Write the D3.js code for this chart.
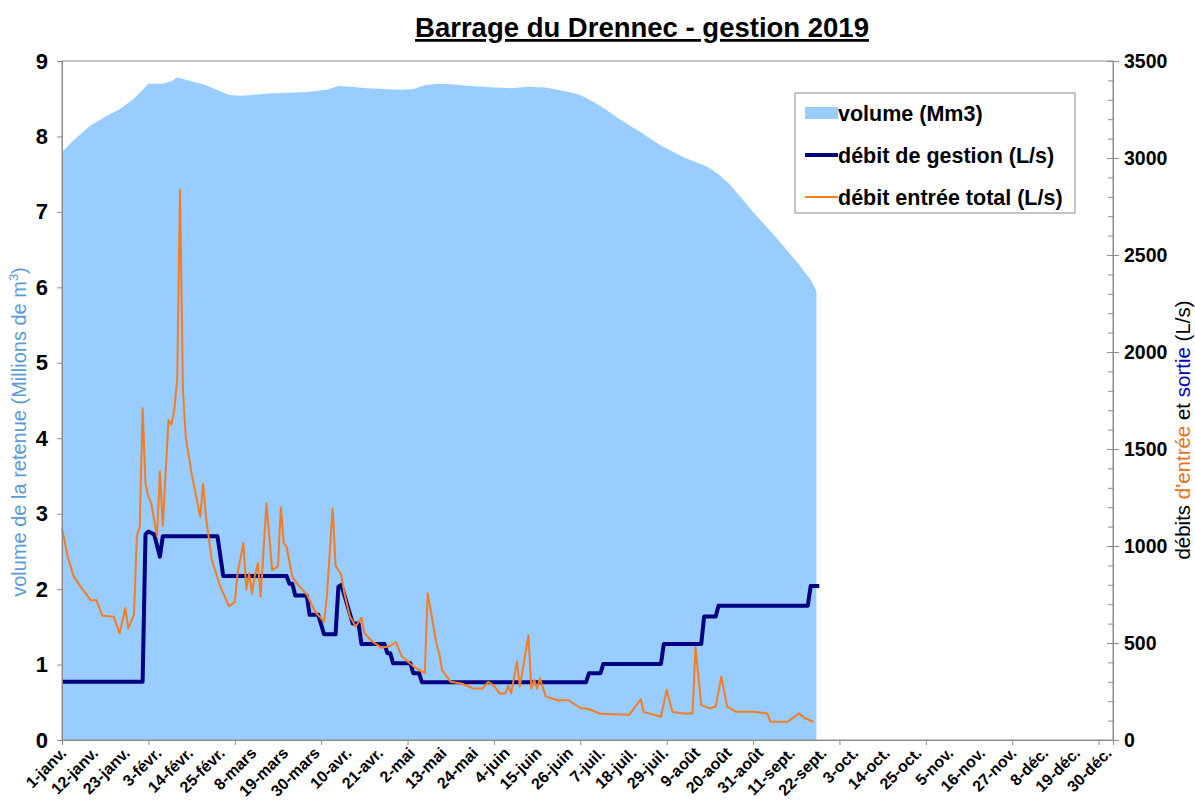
<!DOCTYPE html>
<html>
<head>
<meta charset="utf-8">
<script src="https://cdn.jsdelivr.net/npm/d3@7"></script>
<style>
  body { margin: 0; background: #fff; }
  svg { font-family: "Liberation Sans", Arial, sans-serif; }
</style>
</head>
<body>
<svg width="1195" height="807"></svg>
<script>
// volume de la retenue (Mm3), [jour de l'année, valeur]
const volume = [
  [0, 7.79], [4, 7.95], [10, 8.15], [15, 8.26], [20, 8.36], [25, 8.5], [28, 8.62],
  [30, 8.7], [35, 8.7], [38, 8.73], [40, 8.78], [42, 8.76], [45, 8.73], [50, 8.68],
  [55, 8.6], [58, 8.55], [62, 8.54], [66, 8.55], [72, 8.57], [78, 8.58], [85, 8.59],
  [92, 8.62], [96, 8.67], [100, 8.66], [106, 8.64], [112, 8.63], [118, 8.62],
  [122, 8.63], [126, 8.68], [130, 8.7], [136, 8.69], [142, 8.67], [150, 8.65],
  [156, 8.64], [162, 8.66], [168, 8.65], [172, 8.62], [176, 8.59], [180, 8.55],
  [184, 8.47], [188, 8.38], [192, 8.27], [196, 8.17], [200, 8.08], [204, 7.98],
  [208, 7.88], [212, 7.8], [216, 7.72], [220, 7.66], [224, 7.6], [228, 7.5],
  [232, 7.36], [236, 7.18], [240, 7.0], [244, 6.83], [248, 6.66], [252, 6.48],
  [256, 6.3], [260, 6.1], [262, 5.95]
];

// débit de gestion (L/s)
const gestion = [
  [0, 300], [28, 300], [29, 1060], [30, 1075], [32, 1060], [34, 945], [35, 1050],
  [54, 1050], [56, 845], [78, 845], [79, 805], [80, 805], [81, 745], [85, 745],
  [86, 645], [89, 645], [91, 545], [95, 545], [96, 790], [97, 800], [101, 600],
  [103, 600], [104, 495], [112, 495], [113, 447], [114, 447], [115, 395], [121, 395],
  [122, 344], [124, 344], [125, 298], [182, 298], [183, 344], [187, 344], [188, 392],
  [208, 392], [209, 495], [222, 495], [223, 636], [227, 636], [228, 692], [259, 692],
  [260, 794], [263, 794]
];

// débit entrée total (L/s)
const entree = [
  [0, 1090], [2, 945], [4, 845], [7, 780], [10, 720], [12, 720], [14, 640], [18, 635],
  [20, 550], [22, 680], [23, 575], [25, 645], [26, 1050], [27, 1100], [28, 1710],
  [29, 1320], [30, 1255], [31, 1220], [33, 1050], [34, 1385], [35, 1105], [37, 1650],
  [38, 1625], [39, 1700], [40, 1860], [41, 2835], [42, 1800], [43, 1560], [45, 1375],
  [48, 1150], [49, 1320], [50, 1150], [52, 930], [55, 790], [58, 690], [60, 710],
  [61, 860], [63, 1015], [64, 775], [65, 860], [66, 755], [67, 850], [68, 910],
  [69, 740], [71, 1220], [72, 1050], [73, 875], [75, 895], [76, 1200], [77, 1015],
  [78, 995], [80, 840], [82, 800], [85, 750], [88, 660], [91, 610], [92, 740],
  [94, 1195], [95, 900], [97, 850], [98, 760], [100, 636], [102, 585], [104, 630],
  [105, 550], [108, 505], [111, 475], [114, 485], [116, 505], [118, 430], [122, 380],
  [126, 345], [127, 756], [129, 585], [130, 500], [131, 445], [132, 360], [135, 300],
  [139, 290], [143, 265], [146, 265], [148, 300], [150, 280], [152, 240], [154, 240],
  [155, 280], [156, 240], [158, 405], [159, 275], [162, 540], [163, 265], [164, 310],
  [165, 265], [166, 318], [168, 225], [172, 205], [176, 205], [180, 165], [183, 160],
  [187, 135], [197, 130], [199, 170], [201, 210], [202, 145], [208, 120], [210, 258],
  [212, 145], [216, 137], [219, 137], [220, 480], [222, 180], [225, 163], [227, 172],
  [229, 326], [231, 172], [234, 146], [240, 146], [245, 137], [246, 94], [252, 94],
  [256, 137], [258, 112], [261, 94]
];

const xLabels = [
  "1-janv.", "12-janv.", "23-janv.", "3-févr.", "14-févr.", "25-févr.", "8-mars",
  "19-mars", "30-mars", "10-avr.", "21-avr.", "2-mai", "13-mai", "24-mai", "4-juin",
  "15-juin", "26-juin", "7-juil.", "18-juil.", "29-juil.", "9-août", "20-août",
  "31-août", "11-sept.", "22-sept.", "3-oct.", "14-oct.", "25-oct.", "5-nov.",
  "16-nov.", "27-nov.", "8-déc.", "19-déc.", "30-déc."
];
const labelDays = xLabels.map((d, i) => i * 11);
const tickDays = d3.range(0, 361, 30);
const leftTicks = d3.range(0, 10, 1);
const rightTicks = d3.range(0, 3501, 500);
const rightMinor = d3.range(0, 3501, 100);

const svg = d3.select("svg");
const mLeft = 62, mRight = 1113, mTop = 61, mBottom = 740;

const x = d3.scaleLinear().domain([0, 365]).range([mLeft, mRight]);
const yL = d3.scaleLinear().domain([0, 9]).range([mBottom, mTop]);
const yR = d3.scaleLinear().domain([0, 3500]).range([mBottom, mTop]);

// titre
svg.append("text")
  .attr("x", 642).attr("y", 37)
  .attr("text-anchor", "middle")
  .attr("font-size", 27.5).attr("font-weight", "bold")
  .attr("text-decoration", "underline")
  .text("Barrage du Drennec - gestion 2019");

// volume
svg.append("path")
  .datum(volume)
  .attr("fill", "#99ccff")
  .attr("d", d3.area().x(d => x(d[0])).y0(mBottom).y1(d => yL(d[1])));

// cadre
svg.append("rect")
  .attr("x", mLeft).attr("y", mTop)
  .attr("width", mRight - mLeft).attr("height", mBottom - mTop)
  .attr("fill", "none").attr("stroke", "#8c8c8c").attr("stroke-width", 1);

// lignes
svg.append("path")
  .datum(gestion)
  .attr("fill", "none").attr("stroke", "#000080").attr("stroke-width", 4)
  .attr("stroke-linejoin", "round")
  .attr("d", d3.line().x(d => x(d[0])).y(d => yR(d[1])));

svg.append("path")
  .datum(entree)
  .attr("fill", "none").attr("stroke", "#f47d20").attr("stroke-width", 2)
  .attr("stroke-linejoin", "round")
  .attr("d", d3.line().x(d => x(d[0])).y(d => yR(d[1])));

// axe gauche
const gL = svg.append("g")
  .attr("transform", `translate(${mLeft},0)`)
  .call(d3.axisLeft(yL).tickValues(leftTicks).tickFormat(d3.format("d")).tickSize(5).tickPadding(9));
gL.selectAll("text").attr("font-size", 22).attr("font-weight", "bold").attr("fill", "#000");

// axe droit
const gRm = svg.append("g")
  .attr("transform", `translate(${mRight},0)`)
  .call(d3.axisRight(yR).tickValues(rightMinor).tickSize(-5).tickFormat(""));
const gR = svg.append("g")
  .attr("transform", `translate(${mRight},0)`)
  .call(d3.axisRight(yR).tickValues(rightTicks).tickFormat(d3.format("d")).tickSize(6).tickPadding(5));
gR.selectAll(".tick line").attr("x1", -6);
gR.selectAll("text").attr("font-size", 19.5).attr("font-weight", "bold").attr("fill", "#000");

// axe bas
const gB = svg.append("g")
  .attr("transform", `translate(0,${mBottom})`)
  .call(d3.axisBottom(x).tickValues(tickDays).tickSize(5).tickFormat(""));
const gBl = svg.append("g")
  .attr("transform", `translate(0,${mBottom})`)
  .call(d3.axisBottom(x).tickValues(labelDays).tickSize(0).tickFormat((d, i) => xLabels[i]));
gBl.select(".domain").remove();
gBl.selectAll("text")
  .attr("font-size", 16).attr("font-weight", "bold").attr("fill", "#000")
  .attr("text-anchor", "end")
  .attr("dy", null).attr("y", 0)
  .attr("transform", "translate(5,14) rotate(-45)");

svg.selectAll(".domain, .tick line").attr("stroke", "#8c8c8c");

// titres des axes
const tL = svg.append("text")
  .attr("transform", "translate(26,432) rotate(-90)")
  .attr("text-anchor", "middle").attr("font-size", 20).attr("fill", "#5b9bd5");
tL.append("tspan").text("volume de la retenue (Millions de m");
tL.append("tspan").attr("font-size", 13).attr("dy", -8).text("3");
tL.append("tspan").attr("dy", 8).text(")");

const tR = svg.append("text")
  .attr("transform", "translate(1190,430) rotate(-90)")
  .attr("text-anchor", "middle").attr("font-size", 20.5);
tR.append("tspan").attr("fill", "#000").text("débits ");
tR.append("tspan").attr("fill", "#e8731a").text("d'entrée");
tR.append("tspan").attr("fill", "#000").text(" et ");
tR.append("tspan").attr("fill", "#0000cc").text("sortie");
tR.append("tspan").attr("fill", "#000").text(" (L/s)");

// légende
const leg = svg.append("g");
leg.append("rect")
  .attr("x", 795).attr("y", 93).attr("width", 280).attr("height", 120)
  .attr("fill", "#fff").attr("stroke", "#8c8c8c");
const legItems = [
  { label: "volume (Mm3)", type: "area" },
  { label: "débit de gestion (L/s)", type: "gestion" },
  { label: "débit entrée total (L/s)", type: "entree" }
];
legItems.forEach((d, i) => {
  const cy = 113 + i * 42;
  if (d.type === "area") {
    leg.append("rect").attr("x", 805).attr("y", cy - 6).attr("width", 33).attr("height", 12).attr("fill", "#99ccff");
  } else {
    leg.append("line").attr("x1", 805).attr("x2", 838).attr("y1", cy).attr("y2", cy)
      .attr("stroke", d.type === "gestion" ? "#000080" : "#f47d20")
      .attr("stroke-width", d.type === "gestion" ? 4 : 2);
  }
  leg.append("text").attr("x", 838).attr("y", cy + 7.5)
    .attr("font-size", 21.5).attr("font-weight", "bold").text(d.label);
});
</script>
</body>
</html>
